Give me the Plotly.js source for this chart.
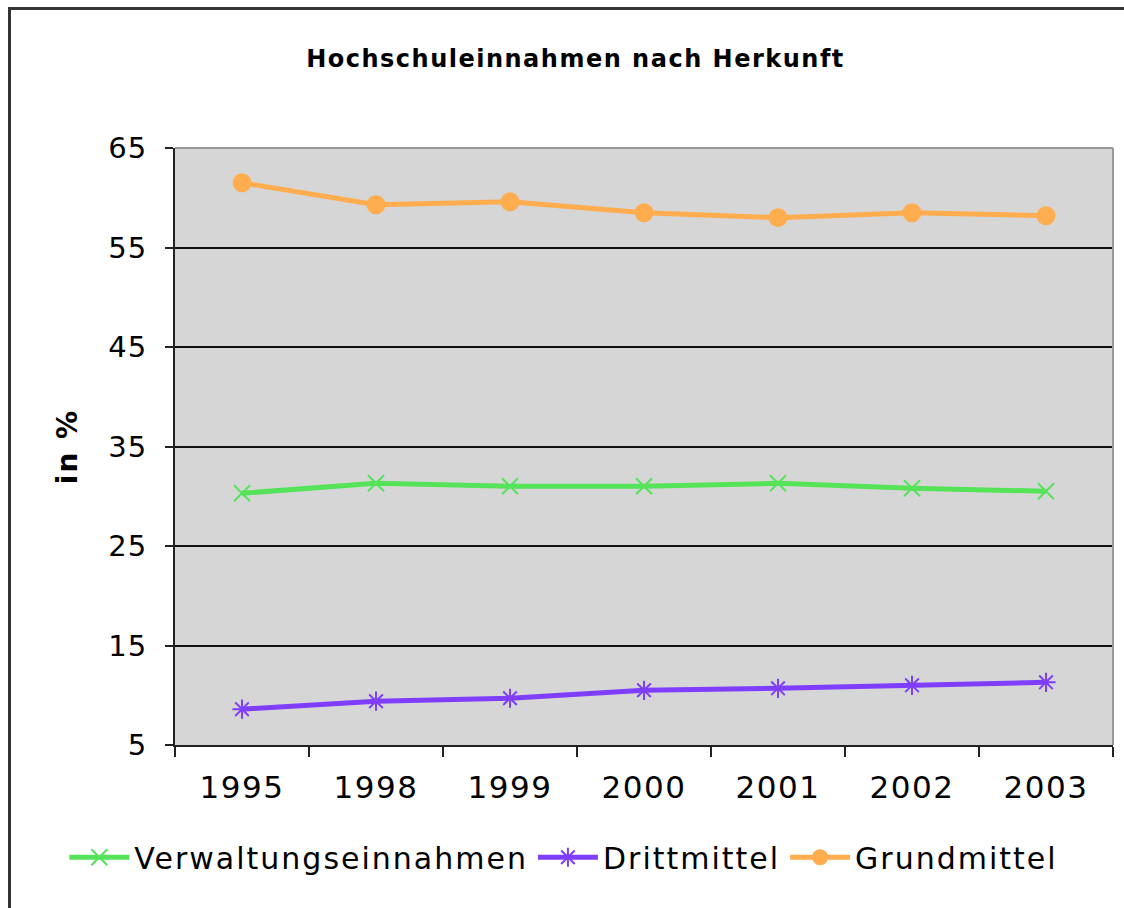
<!DOCTYPE html>
<html>
<head>
<meta charset="utf-8">
<script src="https://cdn.plot.ly/plotly-3.0.1.min.js"></script>
<style>
  html, body { margin: 0; padding: 0; background: #fff; }
  #wrap { position: relative; width: 1124px; height: 908px; }
  #chart { width: 1124px; height: 908px; }
  #frame { position: absolute; left: 8px; top: 7px; width: 1130px; height: 920px;
           border-left: 3px solid #333; border-top: 3px solid #333; pointer-events: none; box-sizing: border-box; }
  text.legendtext { letter-spacing: 2px; }
  .xtick text { letter-spacing: 1.5px; }
  .ytick text { letter-spacing: 1px; }
  text.gtitle { letter-spacing: 1.5px; }
  text.ytitle { letter-spacing: 2px; }
</style>
</head>
<body>
<div id="wrap">
  <div id="chart"></div>
  <div id="frame"></div>
</div>
<script>
const years = ["1995", "1998", "1999", "2000", "2001", "2002", "2003"];
const verwaltungseinnahmen = [30.3, 31.3, 31.0, 31.0, 31.3, 30.8, 30.5];
const drittmittel = [8.6, 9.4, 9.7, 10.5, 10.7, 11.0, 11.3];
const grundmittel = [61.5, 59.3, 59.6, 58.5, 58.0, 58.5, 58.2];
const yTicks = [5, 15, 25, 35, 45, 55, 65];

const traces = [
  { x: years, y: verwaltungseinnahmen, name: "Verwaltungseinnahmen", type: "scatter", mode: "lines+markers",
    line: { color: "#55e35a", width: 5 },
    marker: { symbol: "x-thin-open", size: 16, color: "#55e35a", line: { color: "#55e35a", width: 2 } } },
  { x: years, y: drittmittel, name: "Drittmittel", type: "scatter", mode: "lines+markers",
    line: { color: "#7f3dfc", width: 5 },
    marker: { symbol: "asterisk-open", size: 16, color: "#7f3dfc", line: { color: "#7f3dfc", width: 2 } } },
  { x: years, y: grundmittel, name: "Grundmittel", type: "scatter", mode: "lines+markers",
    line: { color: "#ffad4f", width: 5 },
    marker: { symbol: "circle", size: 19, color: "#ffad4f" } }
];

const layout = {
  width: 1124, height: 908,
  margin: { l: 175, r: 11, t: 148, b: 163 },
  paper_bgcolor: "#ffffff",
  plot_bgcolor: "#d6d6d6",
  font: { family: "DejaVu Sans, Verdana, sans-serif", color: "#000" },
  title: { text: "Hochschuleinnahmen nach Herkunft", x: 0.512, xref: "container", xanchor: "center",
           y: 0.935, yref: "container", yanchor: "middle",
           font: { family: "DejaVu Sans, Verdana, sans-serif", size: 24, weight: "bold", color: "#000" } },
  xaxis: {
    type: "category", range: [-0.5, 6.5], tickson: "boundaries",
    ticks: "outside", ticklen: 10, tickwidth: 2, tickcolor: "#222",
    showline: true, linecolor: "#222", linewidth: 2, mirror: false,
    showgrid: false, zeroline: false,
    tickfont: { size: 31, color: "#000" }, ticklabelstandoff: 14
  },
  yaxis: {
    range: [5, 65], tickvals: yTicks, ticktext: yTicks.map(String),
    ticks: "outside", ticklen: 8, tickwidth: 2, tickcolor: "#222",
    showline: true, linecolor: "#222", linewidth: 2,
    showgrid: true, gridcolor: "#111", gridwidth: 2, zeroline: false,
    tickfont: { size: 29, color: "#000" }, ticklabelstandoff: 12,
    title: { text: "in %", standoff: 22, font: { size: 28, weight: "bold", color: "#000" } }
  },
  shapes: [
    { type: "line", xref: "paper", yref: "paper", x0: 0, x1: 1, y0: 1, y1: 1, line: { color: "#999", width: 2 } },
    { type: "line", xref: "paper", yref: "paper", x0: 1, x1: 1, y0: 0, y1: 1, line: { color: "#999", width: 2 } }
  ],
  showlegend: true,
  legend: { orientation: "h", x: -0.118, xanchor: "left", y: -0.188, yanchor: "middle",
            font: { size: 30, color: "#000" }, itemwidth: 60, tracegroupgap: 0, bgcolor: "rgba(0,0,0,0)" }
};

Plotly.newPlot("chart", traces, layout, { displayModeBar: false, staticPlot: true });
</script>
</body>
</html>
